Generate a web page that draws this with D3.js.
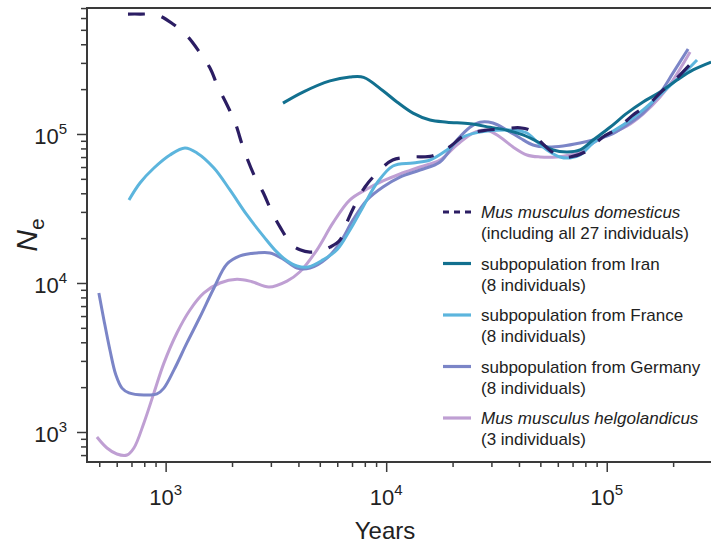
<!DOCTYPE html>
<html>
<head>
<meta charset="utf-8">
<script src="https://cdnjs.cloudflare.com/ajax/libs/d3/7.8.5/d3.min.js"></script>
<style>
  body { margin: 0; background: #fff; }
  text { font-family: "Liberation Sans", Arial, sans-serif; fill: #222; }
</style>
</head>
<body>
<div id="chart"></div>
<script>
// DATA (years before present, effective population size)
var domYears = [675, 764, 913, 1079, 1262, 1431, 1589, 1727, 1897, 2062, 2265, 2541, 2762, 3034, 3299, 3740, 4065, 4512, 5009, 5560, 6172, 6710, 7220, 8015, 9085, 10700, 13090, 16130, 19070, 22780, 27200, 33500, 40440, 44900, 48300, 56500, 62700, 68200, 79700, 96200, 111400, 131600, 154000, 180000, 208300, 256700];
var domNe = [638000, 638000, 630000, 547000, 448000, 350000, 277000, 207000, 157000, 120000, 78100, 51400, 40800, 29900, 23800, 18000, 16700, 16100, 16400, 17400, 19400, 26500, 33400, 44100, 54700, 66900, 70100, 71200, 80500, 98500, 105000, 108000, 110000, 106000, 94000, 75700, 70100, 70100, 75700, 95500, 108000, 134000, 157000, 197000, 238000, 329000];

var iranYears = [3404, 4195, 5560, 6851, 7900, 9670, 11190, 13230, 15800, 18870, 23990, 29560, 35300, 41730, 49830, 57080, 66070, 75680, 86700, 103500, 123600, 146100, 174500, 208300, 246300, 297200];
var iranNe = [161000, 191000, 227000, 241000, 240000, 195000, 164000, 138000, 124000, 120000, 117000, 111000, 106000, 98500, 87000, 78100, 75700, 78100, 91100, 111000, 138000, 164000, 191000, 230000, 269000, 304000];

var franceYears = [682, 765, 885, 1046, 1223, 1387, 1656, 1957, 2337, 2791, 3198, 3549, 3940, 4420, 5170, 5984, 6851, 7850, 9085, 10730, 13230, 15800, 18870, 22300, 26630, 31800, 37600, 43500, 48300, 53600, 61380, 68150, 75680, 86700, 103500, 123600, 146100, 174500, 199800, 231400, 256700];
var franceNe = [36100, 46900, 59100, 72300, 80500, 74600, 59100, 42100, 28600, 20400, 16100, 14100, 13000, 12800, 14300, 16700, 22700, 32400, 46900, 61000, 63900, 66900, 78100, 95500, 103000, 106000, 106000, 101500, 88400, 78100, 70100, 69000, 72300, 87000, 101500, 120000, 145000, 183000, 220000, 269000, 314000];

var germanyYears = [498, 525, 559, 595, 634, 682, 797, 913, 982, 1091, 1249, 1431, 1656, 1897, 2173, 2594, 2972, 3404, 3940, 4512, 5390, 6172, 7070, 8185, 9670, 11550, 14230, 17540, 20950, 23990, 26630, 30480, 35300, 40440, 46320, 53600, 63360, 75680, 86700, 103500, 123600, 146100, 174500, 199800, 233800];
var germanyNe = [8570, 5650, 3550, 2410, 1970, 1830, 1770, 1800, 1970, 2610, 3960, 5910, 9260, 13400, 15200, 15900, 15900, 14500, 12600, 12600, 14700, 18600, 26500, 36100, 44100, 51400, 57300, 64900, 91100, 111000, 120000, 118500, 106000, 94000, 84400, 81800, 83100, 87000, 91100, 98500, 115000, 138000, 188000, 257000, 372000];

var helgoYears = [488, 542, 601, 668, 718, 797, 885, 982, 1125, 1289, 1492, 1763, 2106, 2463, 2941, 3549, 4065, 4856, 5737, 6851, 8185, 9670, 11550, 14230, 17540, 20950, 24760, 28650, 32810, 37600, 43500, 49830, 59520, 68150, 75680, 86700, 103500, 123600, 146100, 174500, 199800, 238700];
var helgoNe = [925, 781, 712, 701, 781, 1150, 1830, 2900, 4620, 6590, 8570, 10000, 10600, 10200, 9400, 10300, 11900, 16700, 25300, 36100, 42700, 48400, 53900, 60000, 66900, 84400, 101500, 106000, 95500, 81800, 72300, 70100, 70100, 72300, 75700, 87000, 100000, 113000, 136000, 177000, 230000, 355000];

var seriesNames = ["domesticus", "iran", "france", "germany", "helgo"];
var seriesColors = ["#2b1d63", "#12708f", "#5cb5dd", "#7b85c7", "#bf9fd3"];
var legendLine1 = ["Mus musculus domesticus", "subpopulation from Iran", "subpopulation from France", "subpopulation from Germany", "Mus musculus helgolandicus"];
var legendLine2 = ["(including all 27 individuals)", "(8 individuals)", "(8 individuals)", "(8 individuals)", "(3 individuals)"];
var legendItalic = [true, false, false, false, true];

var xMajor = [1e3, 1e4, 1e5];
var yMajor = [1e3, 1e4, 1e5];
var xMajorExp = ["3", "4", "5"];
var yMajorExp = ["3", "4", "5"];

var width = 711,
  height = 544;
var plotLeft = 87, plotRight = 711, plotTop = 8, plotBottom = 462;

var svg = d3.select("#chart")
  .append("svg")
  .attr("width", width)
  .attr("height", height);

var x = d3.scaleLog().domain([440, 297000]).range([plotLeft, plotRight]);
var y = d3.scaleLog().domain([629, 700600]).range([plotBottom, plotTop]);

// CLIP
svg.append("clipPath").attr("id", "plot-clip")
  .append("rect")
  .attr("x", plotLeft).attr("y", plotTop)
  .attr("width", plotRight - plotLeft).attr("height", plotBottom - plotTop);

// LINES
function zipSeries(years, ne) {
  return years.map(function(d, i) { return { year: d, ne: ne[i] }; });
}

var allSeries = [
  zipSeries(domYears, domNe),
  zipSeries(iranYears, iranNe),
  zipSeries(franceYears, franceNe),
  zipSeries(germanyYears, germanyNe),
  zipSeries(helgoYears, helgoNe)
];

var line = d3.line()
  .x(function(d) { return x(d.year); })
  .y(function(d) { return y(d.ne); })
  .curve(d3.curveCatmullRom.alpha(0.5));

// draw order: helgo at bottom, domesticus dashed on top
var drawOrder = [4, 3, 2, 1, 0];
var lineGroup = svg.append("g").attr("clip-path", "url(#plot-clip)");

drawOrder.forEach(function(i) {
  lineGroup.append("path")
    .datum(allSeries[i])
    .attr("class", "line-" + seriesNames[i])
    .attr("fill", "none")
    .attr("stroke", seriesColors[i])
    .attr("stroke-width", i === 0 ? 3.2 : 3)
    .attr("stroke-dasharray", i === 0 ? "17,17" : null)
    .attr("d", line);
});

// AXES (minor + major ticks)
var xMinor = x.ticks().filter(function(d) { return xMajor.indexOf(d) < 0; });
var yMinor = y.ticks().filter(function(d) { return yMajor.indexOf(d) < 0; });

function styleAxis(g) {
  g.select(".domain").remove();
  g.selectAll("line").attr("stroke", "#3a3a3a").attr("stroke-width", 1.5);
}

svg.append("g").attr("transform", "translate(0," + plotBottom + ")")
  .call(d3.axisBottom(x).tickValues(xMinor).tickSize(5).tickFormat(""))
  .call(styleAxis);
svg.append("g").attr("transform", "translate(0," + plotBottom + ")")
  .call(d3.axisBottom(x).tickValues(xMajor).tickSize(10).tickFormat(""))
  .call(styleAxis);
svg.append("g").attr("transform", "translate(" + plotLeft + ",0)")
  .call(d3.axisLeft(y).tickValues(yMinor).tickSize(6).tickFormat(""))
  .call(styleAxis);
svg.append("g").attr("transform", "translate(" + plotLeft + ",0)")
  .call(d3.axisLeft(y).tickValues(yMajor).tickSize(10).tickFormat(""))
  .call(styleAxis);

// SPINES
svg.append("path")
  .attr("d", "M" + plotRight + "," + plotTop + "H" + plotLeft + "V" + plotBottom + "H" + plotRight)
  .attr("fill", "none")
  .attr("stroke", "#3a3a3a")
  .attr("stroke-width", 2);

// TICK LABELS
xMajor.forEach(function(v, i) {
  var t = svg.append("text")
    .attr("x", x(v))
    .attr("y", 505)
    .attr("text-anchor", "middle")
    .attr("font-size", 22);
  t.append("tspan").text("10");
  t.append("tspan").attr("dy", -10).attr("font-size", 15).text(xMajorExp[i]);
});

yMajor.forEach(function(v, i) {
  var t = svg.append("text")
    .attr("x", 67)
    .attr("y", y(v) + 10)
    .attr("text-anchor", "end")
    .attr("font-size", 22);
  t.append("tspan").text("10");
  t.append("tspan").attr("dy", -10).attr("font-size", 15).text(yMajorExp[i]);
});

// AXIS LABELS
svg.append("text")
  .attr("x", 385)
  .attr("y", 539)
  .attr("text-anchor", "middle")
  .attr("font-size", 24)
  .text("Years");

var ylab = svg.append("text")
  .attr("transform", "translate(37,235) rotate(-90)")
  .attr("text-anchor", "middle")
  .attr("font-size", 30);
ylab.append("tspan").attr("font-style", "italic").text("N");
ylab.append("tspan").attr("dy", 7).attr("font-size", 21).text("e");

// LEGEND
var legend = svg.selectAll(".legend")
  .data(seriesNames)
  .enter().append("g")
  .attr("class", "legend")
  .attr("transform", function(d, i) {
    return "translate(443," + (212 + i * 51.5) + ")";
  });

legend.append("line")
  .attr("x1", 0).attr("x2", 28)
  .attr("y1", 0).attr("y2", 0)
  .attr("stroke", function(d, i) { return seriesColors[i]; })
  .attr("stroke-width", 3.2)
  .attr("stroke-dasharray", function(d, i) { return i === 0 ? "6,5" : null; });

legend.append("text")
  .attr("x", 38)
  .attr("y", 6)
  .attr("font-size", 17)
  .attr("font-style", function(d, i) { return legendItalic[i] ? "italic" : null; })
  .text(function(d, i) { return legendLine1[i]; });

legend.append("text")
  .attr("x", 38)
  .attr("y", 27)
  .attr("font-size", 17)
  .text(function(d, i) { return legendLine2[i]; });
</script>
</body>
</html>
